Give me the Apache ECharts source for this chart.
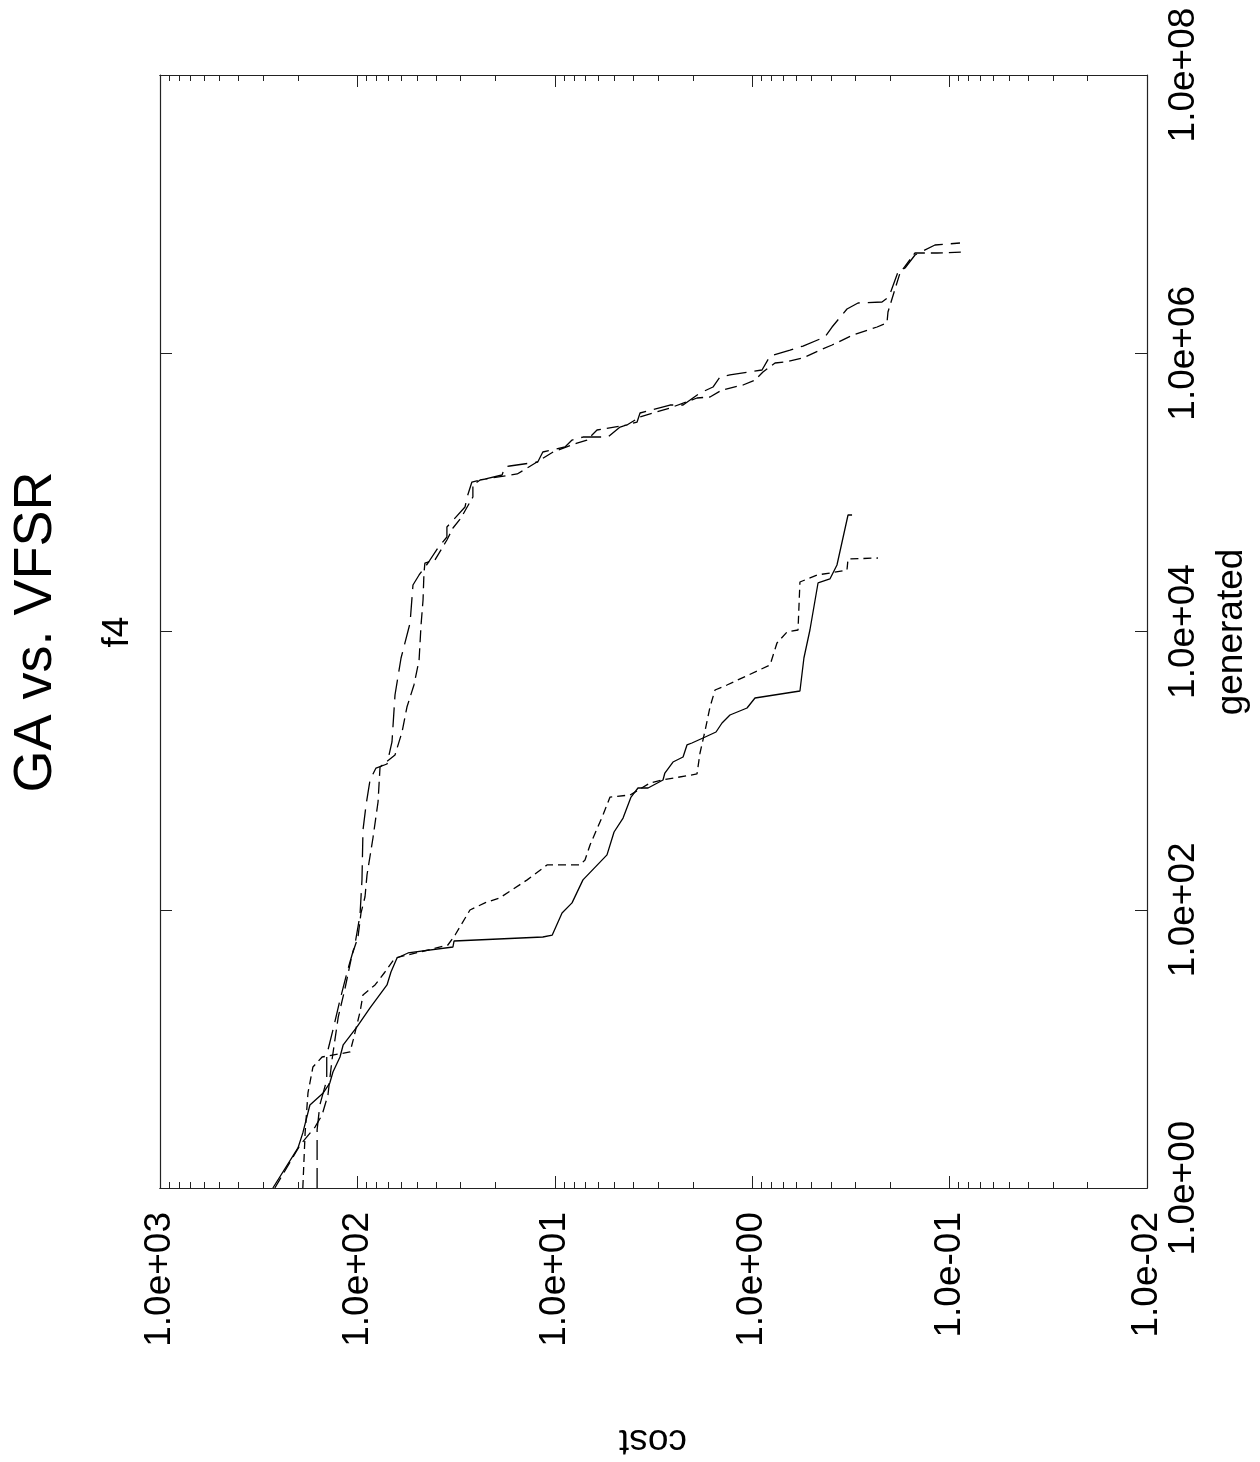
<!DOCTYPE html>
<html>
<head>
<meta charset="utf-8">
<script src="https://cdn.jsdelivr.net/npm/echarts@6/dist/echarts.min.js"></script>
<style>
  html, body { margin: 0; padding: 0; background: #fff; }
  #chart { width: 1260px; height: 1462px; }
</style>
</head>
<body>
<div id="chart"></div>
<script>
// cost (horizontal, reversed) vs. generated (vertical) -- the page is drawn rotated like the original plot
const costTicks = [1e-2, 1e-1, 1e0, 1e1, 1e2, 1e3];
const genTicks = [1e0, 1e2, 1e4, 1e6, 1e8];

const lowerSolidGen = [1, 1.94, 2.49, 3.95, 4.82, 5.68, 6.82, 8.74, 10.7, 14.4, 19.7, 28.8, 35.7, 45.0, 48.9, 54.0, 59.6, 63.7, 65.8, 94.8, 112, 164, 248, 362, 456, 646, 750, 750, 856, 961, 1153, 1253, 1529, 1580, 1745, 1895, 2199, 2511, 2819, 3327, 3736, 6449, 10250, 22320, 23850, 30060, 68780, 68780];
const lowerSolidCost = [268, 200, 189, 174, 149, 138, 133, 122.5, 118, 100.5, 86.3, 70.8, 67.6, 63.0, 55.4, 32.8, 32.4, 11.5, 10.3, 9.19, 8.18, 7.20, 5.44, 5.01, 4.51, 4.11, 3.79, 3.37, 2.83, 2.77, 2.52, 2.24, 2.14, 2.02, 1.73, 1.525, 1.422, 1.296, 1.062, 0.968, 0.573, 0.547, 0.510, 0.464, 0.404, 0.372, 0.327, 0.312];

const lowerDashGen = [1, 2.49, 4.82, 7.41, 8.74, 9.50, 11.6, 18.4, 24.4, 28.8, 35.7, 45.0, 49.7, 55.8, 65.8, 99.6, 112, 122, 164, 210, 210, 228, 292, 480, 646, 668, 815, 856, 946, 1339, 1959, 2866, 3798, 4126, 5743, 8268, 9918, 10250, 22690, 25480, 26330, 27670, 33200, 33760];
const lowerDashCost = [189, 184, 178, 168, 151, 109, 105, 97.0, 93.7, 81.4, 72.5, 64.5, 48.2, 34.8, 32.0, 26.9, 22.6, 18.95, 13.8, 10.95, 7.45, 7.03, 6.63, 5.70, 5.25, 4.16, 3.29, 2.86, 1.904, 1.838, 1.73, 1.636, 1.543, 1.342, 0.812, 0.749, 0.666, 0.586, 0.573, 0.469, 0.404, 0.331, 0.327, 0.2305];

const upperLongGen = [1, 2.61, 3.95, 5.97, 9.04, 13.7, 22.5, 36.9, 55.8, 91.7, 164, 374, 566, 856, 1044, 1116, 1607, 3497, 6449, 11510, 21590, 25480, 31070, 39830, 47790, 56380, 78500, 92640, 118700, 122700, 133300, 152200, 154700, 165300, 195100, 211900, 237900, 250000, 250000, 295000, 320500, 372000, 424600, 424600, 518000, 572000, 675000, 697900, 757800, 955500, 1.055e6, 1.127e6, 1.309e6, 1.544e6, 2.08e6, 2.297e6, 2.336e6, 2.537e6, 3.837e6, 4.10e6, 5.084e6, 6.0e6, 6.2e6];
const upperLongCost = [160, 160, 155, 143, 143, 133, 122.5, 112, 103, 97.0, 94.8, 93.7, 90.4, 86.3, 80.5, 70.8, 66.8, 64.5, 60.1, 54.1, 52.3, 48.7, 43.9, 39.1, 35.2, 35.2, 28.5, 27.8, 26.3, 23.9, 18.5, 17.9, 16.9, 12.2, 11.5, 8.88, 8.18, 7.20, 5.38, 4.67, 3.83, 3.70, 2.61, 2.24, 1.838, 1.58, 1.456, 1.296, 0.892, 0.812, 0.643, 0.553, 0.428, 0.394, 0.331, 0.291, 0.220, 0.203, 0.1826, 0.1682, 0.1497, 0.1186, 0.0886];

const upperDashGen = [1, 2.04, 2.74, 3.35, 4.66, 8.32, 17.0, 26.5, 47.3, 63.7, 94.8, 124, 178, 328, 595, 1062, 1134, 1295, 1895, 2866, 4126, 6240, 11140, 16840, 26330, 31070, 32650, 45460, 55430, 65430, 92640, 113000, 122700, 126900, 135600, 149700, 195100, 226300, 237900, 280700, 305000, 348200, 404200, 476900, 484900, 544300, 591200, 642100, 733300, 851000, 865000, 924500, 1.055e6, 1.146e6, 1.353e6, 1.544e6, 1.65e6, 1.98e6, 3.774e6, 5.256e6, 5.256e6, 5.344e6];
const upperDashCost = [262, 195, 164, 151, 141, 134.5, 125, 116, 106.5, 99.3, 95.9, 91.5, 89.4, 83.4, 78.6, 76.8, 72.5, 64.5, 59.4, 56.1, 51.7, 48.7, 47.6, 46.5, 46.0, 45.5, 40.5, 35.2, 32.8, 29.9, 26.0, 26.0, 23.9, 20.8, 15.5, 13.8, 10.2, 7.72, 6.87, 6.11, 4.31, 3.70, 2.61, 1.904, 1.636, 1.422, 1.113, 0.968, 0.882, 0.766, 0.682, 0.553, 0.453, 0.394, 0.309, 0.233, 0.2076, 0.2052, 0.1784, 0.1497, 0.1158, 0.0836];

// log minor ticks 2..9 inside each cost decade
const costMinorTicks = [];
costTicks.slice(0, -1).forEach(d => {
  for (let k = 2; k <= 9; k++) costMinorTicks.push(+(k * d).toPrecision(3));
});

const FONT = '"Liberation Sans", Arial, sans-serif';
const AXIS_COLOR = '#222';

function sciLabel(v) {
  const e = Math.round(Math.log10(v));
  return '1.0e' + (e < 0 ? '-' : '+') + String(Math.abs(e)).padStart(2, '0');
}

function pairs(cost, gen) {
  return cost.map((c, i) => [c, gen[i]]);
}

function costAxis(position, ticks, tickLen, showLabels) {
  return {
    type: 'log',
    gridIndex: 0,
    position: position,
    inverse: true,
    min: 1e-2,
    max: 1e3,
    axisLine: { show: true, onZero: false, lineStyle: { color: AXIS_COLOR, width: 1.2 } },
    axisTick: { show: true, inside: true, length: tickLen, customValues: ticks, lineStyle: { color: AXIS_COLOR, width: 1 } },
    axisLabel: {
      show: showLabels,
      customValues: costTicks,
      rotate: 90,
      margin: 24,
      formatter: sciLabel,
      fontFamily: FONT,
      fontSize: 37,
      color: '#000'
    },
    splitLine: { show: false },
    minorTick: { show: false }
  };
}

function genAxis(position, showLabels) {
  return {
    type: 'log',
    gridIndex: 0,
    position: position,
    min: 1,
    max: 1e8,
    axisLine: { show: true, onZero: false, lineStyle: { color: AXIS_COLOR, width: 1.2 } },
    axisTick: { show: true, inside: true, length: 12, customValues: genTicks, lineStyle: { color: AXIS_COLOR, width: 1 } },
    axisLabel: {
      show: showLabels,
      customValues: genTicks,
      rotate: 90,
      margin: 18,
      formatter: sciLabel,
      fontFamily: FONT,
      fontSize: 37,
      color: '#000'
    },
    splitLine: { show: false }
  };
}

function lineSeries(name, cost, gen, dash) {
  return {
    name: name,
    type: 'line',
    xAxisIndex: 0,
    yAxisIndex: 0,
    data: pairs(cost, gen),
    showSymbol: false,
    symbol: 'none',
    clip: true,
    animation: false,
    lineStyle: { color: '#000', width: 1.3, type: dash }
  };
}

const chart = echarts.init(document.getElementById('chart'), null, { renderer: 'canvas' });

chart.setOption({
  backgroundColor: '#fff',
  animation: false,
  grid: { left: 160, top: 75, width: 987, height: 1113, containLabel: false },
  xAxis: [
    costAxis('bottom', costTicks, 12, true),
    costAxis('bottom', costMinorTicks, 6, false),
    costAxis('top', costTicks, 12, false),
    costAxis('top', costMinorTicks, 6, false)
  ],
  yAxis: [
    genAxis('right', true),
    genAxis('left', false)
  ],
  series: [
    lineSeries('lower solid', lowerSolidCost, lowerSolidGen, 'solid'),
    lineSeries('lower dashed', lowerDashCost, lowerDashGen, [8, 5]),
    lineSeries('upper long dash', upperLongCost, upperLongGen, [20, 8]),
    lineSeries('upper dashed', upperDashCost, upperDashGen, [12, 6])
  ],
  graphic: [
    {
      type: 'text', x: 36, y: 632, rotation: Math.PI / 2,
      style: { text: 'GA vs. VFSR', font: '54px ' + FONT, fill: '#000', textAlign: 'center', textVerticalAlign: 'middle' }
    },
    {
      type: 'text', x: 118, y: 632, rotation: Math.PI / 2,
      style: { text: 'f4', font: '37px ' + FONT, fill: '#000', textAlign: 'center', textVerticalAlign: 'middle' }
    },
    {
      type: 'text', x: 1232, y: 632, rotation: Math.PI / 2,
      style: { text: 'generated', font: '37px ' + FONT, fill: '#000', textAlign: 'center', textVerticalAlign: 'middle' }
    },
    {
      type: 'text', x: 653, y: 1440, rotation: Math.PI,
      style: { text: 'cost', font: '37px ' + FONT, fill: '#000', textAlign: 'center', textVerticalAlign: 'middle' }
    }
  ]
});
</script>
</body>
</html>
